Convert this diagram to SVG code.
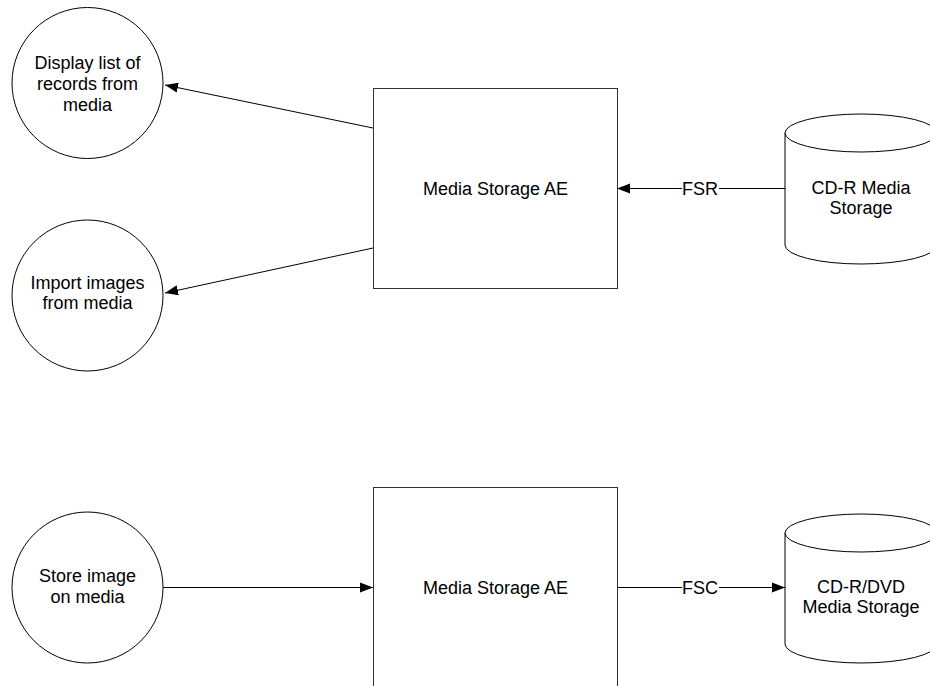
<svg xmlns="http://www.w3.org/2000/svg" width="930" height="686" viewBox="0 0 930 686">
  <defs>
    <style>
      .shape { fill: #ffffff; stroke: #000000; stroke-width: 1; }
      .box { fill: #ffffff; stroke: #333333; stroke-width: 1; }
      .conn { fill: none; stroke: #000000; stroke-width: 1; }
      .lbl { font-family: "Liberation Sans", Arial, sans-serif; font-size: 18px; fill: #000000; text-anchor: middle; }
      .lblbg { fill: #ffffff; stroke: none; }
    </style>
    <marker id="arrow" markerUnits="userSpaceOnUse" markerWidth="13" markerHeight="11" refX="13" refY="5" orient="auto" viewBox="0 0 13 10">
      <path d="M0,0 L13,5 L0,10 Z" fill="#000000"/>
    </marker>
  </defs>
  <rect width="930" height="686" fill="#ffffff"/>

  <g id="connectors">
    <line class="conn" x1="373" y1="128" x2="165" y2="85" marker-end="url(#arrow)"/>
    <line class="conn" x1="373" y1="248" x2="165" y2="293" marker-end="url(#arrow)"/>
    <line class="conn" x1="785" y1="188.5" x2="617" y2="188.5" marker-end="url(#arrow)"/>
    <rect class="lblbg" x="682" y="178" width="37" height="20"/>
    <text class="lbl" x="700" y="195">FSR</text>
    <line class="conn" x1="163" y1="587.5" x2="373" y2="587.5" marker-end="url(#arrow)"/>
    <line class="conn" x1="617" y1="587.5" x2="785" y2="587.5" marker-end="url(#arrow)"/>
    <rect class="lblbg" x="682" y="577" width="37" height="20"/>
    <text class="lbl" x="700" y="594">FSC</text>
  </g>

  <g id="display-list">
    <circle class="shape" cx="87.5" cy="83" r="75.5"/>
    <text class="lbl" x="87.5" y="69">Display list of</text>
    <text class="lbl" x="87.5" y="90">records from</text>
    <text class="lbl" x="87.5" y="111">media</text>
  </g>

  <g id="import-images">
    <circle class="shape" cx="87.5" cy="295.5" r="75.5"/>
    <text class="lbl" x="87.5" y="289">Import images</text>
    <text class="lbl" x="87.5" y="309">from media</text>
  </g>

  <g id="media-storage-ae-1">
    <rect class="box" x="373.5" y="88.5" width="244" height="200"/>
    <text class="lbl" x="495.5" y="195">Media Storage AE</text>
  </g>

  <g id="cdr-media-storage">
    <path class="shape" d="M785,133 L785,245 A76,19 0 0 0 937,245 L937,133"/>
    <ellipse class="shape" cx="861" cy="133" rx="76" ry="19"/>
    <text class="lbl" x="861" y="194">CD-R Media</text>
    <text class="lbl" x="861" y="214">Storage</text>
  </g>

  <g id="store-image">
    <circle class="shape" cx="87.5" cy="587.5" r="75.5"/>
    <text class="lbl" x="87.5" y="582">Store image</text>
    <text class="lbl" x="87.5" y="603">on media</text>
  </g>

  <g id="media-storage-ae-2">
    <rect class="box" x="373.5" y="487.5" width="244" height="220"/>
    <text class="lbl" x="495.5" y="594">Media Storage AE</text>
  </g>

  <g id="cdr-dvd-media-storage">
    <path class="shape" d="M785,533 L785,644 A76,19 0 0 0 937,644 L937,533"/>
    <ellipse class="shape" cx="861" cy="533" rx="76" ry="19"/>
    <text class="lbl" x="861" y="593">CD-R/DVD</text>
    <text class="lbl" x="861" y="613">Media Storage</text>
  </g>
</svg>
